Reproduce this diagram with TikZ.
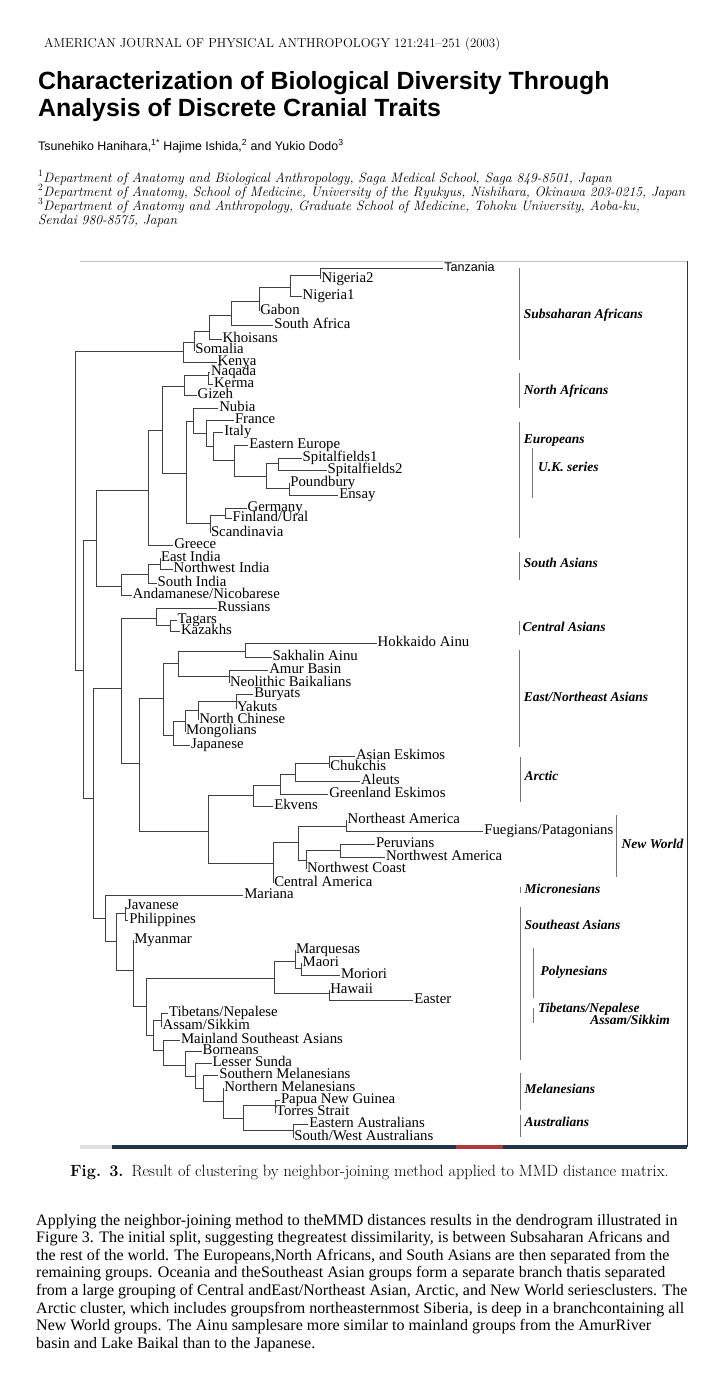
\documentclass[tikz,border=0pt]{standalone}
\usepackage{fontspec}
\usepackage{tikz}
\usetikzlibrary{positioning}
\newfontfamily\serifT{Liberation Serif}
\newfontfamily\sansA{Liberation Sans}
\definecolor{framegray}{HTML}{B9C3D1}
\definecolor{bardark}{HTML}{26364A}
\definecolor{barred}{HTML}{B0393A}

\begin{document}
\begin{tikzpicture}[
    x=1pt, y=-1pt,
    leaf/.style={anchor=west, inner sep=0.8pt, text height=8pt, text depth=2pt,
                 font=\serifT\fontsize{14.8}{15}\selectfont},
    br/.style={draw=black!75, line width=0.6pt},
    grp/.style={anchor=west, inner sep=1pt, text height=8pt, text depth=2pt,
                font=\serifT\bfseries\itshape\fontsize{13.5}{14}\selectfont},
    grpbar/.style={draw=black!55, line width=0.6pt},
    hdr/.style={anchor=base west, inner sep=0pt},
]
\fill[white] (0,0) rectangle (718,1384);
\useasboundingbox (0,0) rectangle (718,1384);

% page head
\node[hdr, font=\fontsize{12.9}{14}\selectfont] (journal) at (44,47)
    {AMERICAN JOURNAL OF PHYSICAL ANTHROPOLOGY 121:241–251 (2003)};
\node[hdr, font=\sansA\bfseries\fontsize{24.9}{27}\selectfont] (title1) at (38,89)
    {Characterization of Biological Diversity Through};
\node[hdr, font=\sansA\bfseries\fontsize{24.9}{27}\selectfont] (title2) at (38,116)
    {Analysis of Discrete Cranial Traits};
\node[hdr, font=\sansA\fontsize{12.4}{14}\selectfont] (authors) at (38,150)
    {Tsunehiko Hanihara,\textsuperscript{1*} Hajime Ishida,\textsuperscript{2} and Yukio Dodo\textsuperscript{3}};
\node[hdr, font=\itshape\fontsize{13.6}{14}\selectfont] (aff1) at (38,182)
    {\textsuperscript{\upshape 1}Department of Anatomy and Biological Anthropology, Saga Medical School, Saga 849-8501, Japan};
\node[hdr, font=\itshape\fontsize{13.6}{14}\selectfont] (aff2) at (38,196)
    {\textsuperscript{\upshape 2}Department of Anatomy, School of Medicine, University of the Ryukyus, Nishihara, Okinawa 203-0215, Japan};
\node[hdr, font=\itshape\fontsize{13.6}{14}\selectfont] (aff3) at (38,210)
    {\textsuperscript{\upshape 3}Department of Anatomy and Anthropology, Graduate School of Medicine, Tohoku University, Aoba-ku,};
\node[hdr, font=\itshape\fontsize{13.6}{14}\selectfont] (aff4) at (38,224)
    {Sendai 980-8575, Japan};

% figure frame
\draw[framegray, line width=1pt] (80,261) -- (687,261);
\draw[black!80, line width=0.8pt] (687,261) -- (687,1147);
\fill[black!12] (80,1145) rectangle (112,1149);
\fill[bardark] (112,1145) rectangle (687,1149);
\fill[barred] (456,1145) rectangle (503,1149);

% leaves
\node[leaf, font=\sansA\fontsize{12.6}{13}\selectfont] (tanz) at (443.3,268.3) {Tanzania};
\node[leaf] (nig2) at (320.7,279) {Nigeria2};
\node[leaf] (nig1) at (301.7,296.7) {Nigeria1};
\node[leaf] (gabon) at (259.3,311) {Gabon};
\node[leaf] (safr) at (273.3,325) {South Africa};
\node[leaf] (khoi) at (221.7,339) {Khoisans};
\node[leaf] (somal) at (194.3,350.5) {Somalia};
\node[leaf] (kenya) at (216.7,362.3) {Kenya};
\node[leaf] (naq) at (210,372) {Naqada};
\node[leaf] (kerma) at (213,384.5) {Kerma};
\node[leaf] (gizeh) at (196.7,395) {Gizeh};
\node[leaf] (nubia) at (218.3,408.3) {Nubia};
\node[leaf] (france) at (234,420.7) {France};
\node[leaf] (italy) at (223.3,432.7) {Italy};
\node[leaf] (eeur) at (248.3,445) {Eastern Europe};
\node[leaf] (spit1) at (301.7,458.3) {Spitalfields1};
\node[leaf] (spit2) at (326.7,470) {Spitalfields2};
\node[leaf] (poundb) at (289.3,483.3) {Poundbury};
\node[leaf] (ensay) at (338.3,495) {Ensay};
\node[leaf] (germ) at (246.7,508.3) {Germany};
\node[leaf] (finl) at (231.7,518.3) {Finland/Ural};
\node[leaf] (scand) at (210,533) {Scandinavia};
\node[leaf] (greece) at (173.3,545) {Greece};
\node[leaf] (eind) at (160,558.3) {East India};
\node[leaf] (nwind) at (172.7,569.5) {Northwest India};
\node[leaf] (sind) at (156.7,583.3) {South India};
\node[leaf] (andam) at (131.7,595.5) {Andamanese/Nicobarese};
\node[leaf] (russ) at (216.7,608.3) {Russians};
\node[leaf] (tagar) at (176.7,620) {Tagars};
\node[leaf] (kazak) at (180,631.7) {Kazakhs};
\node[leaf] (hokk) at (376.7,643.3) {Hokkaido Ainu};
\node[leaf] (sakh) at (271.7,657.3) {Sakhalin Ainu};
\node[leaf] (amur) at (268.3,670) {Amur Basin};
\node[leaf] (neol) at (229,683) {Neolithic Baikalians};
\node[leaf] (bury) at (253.3,694.3) {Buryats};
\node[leaf] (yakut) at (236,708.5) {Yakuts};
\node[leaf] (nchin) at (198.3,720) {North Chinese};
\node[leaf] (mong) at (185,731.7) {Mongolians};
\node[leaf] (japan) at (190,745.5) {Japanese};
\node[leaf] (aesk) at (355,756.7) {Asian Eskimos};
\node[leaf] (chuk) at (329.3,767.5) {Chukchis};
\node[leaf] (aleut) at (360,781.7) {Aleuts};
\node[leaf] (gesk) at (328.3,794) {Greenland Eskimos};
\node[leaf] (ekv) at (273.3,806.7) {Ekvens};
\node[leaf] (neam) at (346.7,820) {Northeast America};
\node[leaf] (fueg) at (483.3,831.7) {Fuegians/Patagonians};
\node[leaf] (peru) at (375,844) {Peruvians};
\node[leaf] (nwam) at (385,857.3) {Northwest America};
\node[leaf] (nwco) at (306,869) {Northwest Coast};
\node[leaf] (cam) at (273.3,883) {Central America};
\node[leaf] (mariana) at (243.3,895) {Mariana};
\node[leaf] (java) at (125,906.5) {Javanese};
\node[leaf] (phil) at (128.3,920) {Philippines};
\node[leaf] (myan) at (133.3,940) {Myanmar};
\node[leaf] (marq) at (295,950) {Marquesas};
\node[leaf] (maori) at (301.7,963) {Maori};
\node[leaf] (morio) at (340,975) {Moriori};
\node[leaf] (hawaii) at (329.3,990) {Hawaii};
\node[leaf] (easter) at (413.3,1000) {Easter};
\node[leaf] (tibet) at (168,1013.3) {Tibetans/Nepalese};
\node[leaf] (assam) at (161.7,1026.7) {Assam/Sikkim};
\node[leaf] (msea) at (180,1040) {Mainland Southeast Asians};
\node[leaf] (born) at (201.7,1051) {Borneans};
\node[leaf] (lsun) at (211.7,1063.3) {Lesser Sunda};
\node[leaf] (smel) at (218.3,1075) {Southern Melanesians};
\node[leaf] (nmel) at (223.3,1088) {Northern Melanesians};
\node[leaf] (png) at (280,1100) {Papua New Guinea};
\node[leaf] (torr) at (275,1112.5) {Torres Strait};
\node[leaf] (eaus) at (308.3,1124.3) {Eastern Australians};
\node[leaf] (swaus) at (293.3,1137.5) {South/West Australians};

% branch points
\coordinate (ss1) at (320.7,275.7);
\coordinate (ss2) at (290.3,287.3);
\coordinate (ss3) at (259.3,301.7);
\coordinate (ss4) at (231.7,315.7);
\coordinate (ss5) at (209,331);
\coordinate (ss6) at (194.3,342.3);
\coordinate (ss7) at (183.7,351.7);
\coordinate (na1) at (208.3,375.7);
\coordinate (na2) at (184,386.7);
\coordinate (uk1) at (278.3,463.3);
\coordinate (uk2) at (289.3,488.3);
\coordinate (uk3) at (266.7,476.7);
\coordinate (eu1) at (234,460);
\coordinate (eu2) at (213.3,446.7);
\coordinate (eu3) at (206.7,433.3);
\coordinate (eu4) at (193.3,421.7);
\coordinate (eu5) at (225,515);
\coordinate (eu6) at (210,523.3);
\coordinate (eu7) at (186.7,473.3);
\coordinate (nae) at (162.7,430);
\coordinate (neg) at (148.3,490);
\coordinate (sa1) at (160,564.3);
\coordinate (sa2) at (148.3,574.3);
\coordinate (sa3) at (121.7,586.7);
\coordinate (wes) at (96.7,540);
\coordinate (ca1) at (170,625);
\coordinate (ca2) at (156.7,618.3);
\coordinate (ea1) at (245.7,651.7);
\coordinate (ea2) at (229,676.7);
\coordinate (ea3) at (178.3,663.3);
\coordinate (ea4) at (236,701.7);
\coordinate (ea5) at (198.3,710.7);
\coordinate (ea6) at (185,721);
\coordinate (ea7) at (173.3,735);
\coordinate (ea8) at (163.3,698.3);
\coordinate (ar1) at (329.3,763.3);
\coordinate (ar2) at (295,774);
\coordinate (ar3) at (280,785);
\coordinate (ar4) at (253.3,795);
\coordinate (nw1) at (346.7,826);
\coordinate (nw2) at (340,850);
\coordinate (nw3) at (306,860);
\coordinate (nw4) at (298.3,842.7);
\coordinate (nw5) at (273.3,863.3);
\coordinate (arnw) at (208.3,831.7);
\coordinate (eaa) at (139.3,763.3);
\coordinate (cea) at (121.7,688.3);
\coordinate (jv) at (125,913.3);
\coordinate (po1) at (301.7,968.3);
\coordinate (po2) at (295,961);
\coordinate (po3) at (329.3,993.3);
\coordinate (po4) at (274.3,978.3);
\coordinate (tb) at (161.7,1020);
\coordinate (au1) at (275,1105);
\coordinate (au2) at (293.3,1130);
\coordinate (me1) at (243.3,1118.3);
\coordinate (me2) at (223.3,1101.7);
\coordinate (me3) at (203.3,1088.3);
\coordinate (me4) at (195,1076.7);
\coordinate (me5) at (185,1065);
\coordinate (me6) at (163.3,1050);
\coordinate (me7) at (153.3,1035);
\coordinate (oc1) at (146.7,1006.7);
\coordinate (oc2) at (133.3,970);
\coordinate (oc3) at (116,941.7);
\coordinate (oc4) at (105,918.3);
\coordinate (asia) at (93.3,798);
\coordinate (rest) at (83.3,670);
\coordinate (root) at (75.7,510);

% branches
\foreach \a/\b in {ss1/tanz, ss1/nig2, ss2/ss1, ss2/nig1, ss3/ss2, ss3/gabon, ss4/ss3, ss4/safr,
    ss5/ss4, ss5/khoi, ss6/ss5, ss6/somal, ss7/ss6, ss7/kenya,
    na1/naq, na1/kerma, na2/na1, na2/gizeh,
    uk1/spit1, uk1/spit2, uk2/poundb, uk2/ensay, uk3/uk1, uk3/uk2, eu1/eeur, eu1/uk3,
    eu2/italy, eu2/eu1, eu3/france, eu3/eu2, eu4/nubia, eu4/eu3, eu5/germ, eu5/finl,
    eu6/eu5, eu6/scand, eu7/eu4, eu7/eu6, nae/na2, nae/eu7, neg/nae, neg/greece,
    sa1/eind, sa1/nwind, sa2/sa1, sa2/sind, sa3/sa2, sa3/andam, wes/neg, wes/sa3,
    ca1/tagar, ca1/kazak, ca2/russ, ca2/ca1,
    ea1/hokk, ea1/sakh, ea2/amur, ea2/neol, ea3/ea1, ea3/ea2, ea4/bury, ea4/yakut,
    ea5/ea4, ea5/nchin, ea6/ea5, ea6/mong, ea7/ea6, ea7/japan, ea8/ea3, ea8/ea7,
    ar1/aesk, ar1/chuk, ar2/ar1, ar2/aleut, ar3/ar2, ar3/gesk, ar4/ar3, ar4/ekv,
    nw1/neam, nw1/fueg, nw2/peru, nw2/nwam, nw3/nw2, nw3/nwco, nw4/nw1, nw4/nw3,
    nw5/nw4, nw5/cam, arnw/ar4, arnw/nw5, eaa/ea8, eaa/arnw, cea/ca2, cea/eaa,
    jv/java, jv/phil, po1/maori, po1/morio, po2/marq, po2/po1, po3/hawaii, po3/easter,
    po4/po2, po4/po3, tb/tibet, tb/assam, au1/png, au1/torr, au2/eaus, au2/swaus,
    me1/au1, me1/au2, me2/nmel, me2/me1, me3/smel, me3/me2, me4/lsun, me4/me3,
    me5/born, me5/me4, me6/msea, me6/me5, me7/tb, me7/me6, oc1/po4, oc1/me7,
    oc2/myan, oc2/oc1, oc3/jv, oc3/oc2, oc4/mariana, oc4/oc3, asia/cea, asia/oc4,
    rest/wes, rest/asia, root/ss7, root/rest}
    \draw[br] (\a) |- (\b);

% group bars and names
\draw[grpbar] (519,268.3) -- (519,360);
\node[grp] (gsub) at (522.7,315) {Subsaharan Africans};
\draw[grpbar] (519,373.3) -- (519,407.7);
\node[grp] (gnaf) at (522.7,391.7) {North Africans};
\draw[grpbar] (519,421.7) -- (519,538.3);
\node[grp] (geur) at (522.7,440.7) {Europeans};
\draw[grpbar] (532.3,448.3) -- (532.3,497.7);
\node[grp] (guk) at (537,468.3) {U.K. series};
\draw[grpbar] (519,551.7) -- (519,580);
\node[grp] (gsas) at (522.7,564.3) {South Asians};
\draw[grpbar] (519,621) -- (519,635);
\node[grp] (gcas) at (521.5,628.3) {Central Asians};
\draw[grpbar] (519.5,650) -- (519.5,746.7);
\node[grp] (geas) at (522.7,698.3) {East/Northeast Asians};
\draw[grpbar] (520,757.3) -- (520,801.7);
\node[grp] (garc) at (523.5,777.3) {Arctic};
\draw[grpbar] (616.7,815) -- (616.7,876.7);
\node[grp] (gnew) at (620.5,845) {New World};
\draw[grpbar] (520,886.7) -- (520,893.3);
\node[grp] (gmic) at (523.5,890) {Micronesians};
\draw[grpbar] (520,906.7) -- (520,1060);
\node[grp] (gsea) at (523.5,926.7) {Southeast Asians};
\draw[grpbar] (533.3,948.3) -- (533.3,998.3);
\node[grp] (gpol) at (539.5,972.7) {Polynesians};
\draw[grpbar] (533.3,1008.3) -- (533.3,1023.3);
\node[grp] (gtib) at (537,1009.3) {Tibetans/Nepalese};
\node[grp, anchor=east] (gass) at (671,1021.7) {Assam/Sikkim};
\draw[grpbar] (520,1073.3) -- (520,1110);
\node[grp] (gmel) at (523.5,1090.7) {Melanesians};
\draw[grpbar] (520,1115) -- (520,1136.7);
\node[grp] (gaus) at (523.5,1123.3) {Australians};

% caption and text
\node[hdr, font=\fontsize{16.3}{18}\selectfont] (caption) at (70,1176)
    {\textbf{Fig. 3.}\hspace{8pt}Result of clustering by neighbor-joining method applied to MMD distance matrix.};
\foreach \t [count=\i] in {
    {Applying the neighbor-joining method to theMMD distances results in the dendrogram illustrated in},
    {Figure 3. The initial split, suggesting thegreatest dissimilarity, is between Subsaharan Africans and},
    {the rest of the world. The Europeans,North Africans, and South Asians are then separated from the},
    {remaining groups. Oceania and theSoutheast Asian groups form a separate branch thatis separated},
    {from a large grouping of Central andEast/Northeast Asian, Arctic, and New World seriesclusters. The},
    {Arctic cluster, which includes groupsfrom northeasternmost Siberia, is deep in a branchcontaining all},
    {New World groups. The Ainu samplesare more similar to mainland groups from the AmurRiver},
    {basin and Lake Baikal than to the Japanese.}}
    \node[hdr, font=\serifT\fontsize{16}{17.6}\selectfont] (body\i) at (36,{1225+17.6*(\i-1)}) {\t};
\end{tikzpicture}
\end{document}
